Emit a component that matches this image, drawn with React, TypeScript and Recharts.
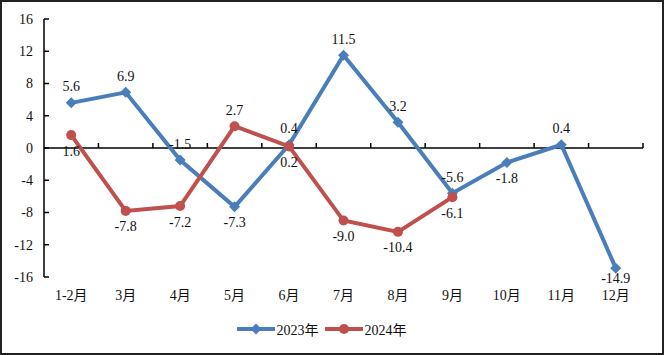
import { LineChart, Line, XAxis, YAxis, Legend, ReferenceLine, LabelList } from 'recharts';

const months = ['1-2月', '3月', '4月', '5月', '6月', '7月', '8月', '9月', '10月', '11月', '12月'];
const growth2023 = [5.6, 6.9, -1.5, -7.3, 0.4, 11.5, 3.2, -5.6, -1.8, 0.4, -14.9];
const growth2024 = [1.6, -7.8, -7.2, 2.7, 0.2, -9.0, -10.4, -6.1, null, null, null];
const yTicks = [-16, -12, -8, -4, 0, 4, 8, 12, 16];

// which months put their value label under the point
const below2023 = ['5月', '10月', '12月'];
const below2024 = ['1-2月', '3月', '4月', '6月', '7月', '8月', '9月'];

const BLUE = '#4A7EBB';
const RED = '#C0504D';
const FONT = '"Liberation Serif", "Noto Sans CJK SC", serif';

const rows = months.map((m, i) => ({ month: m, y2023: growth2023[i], y2024: growth2024[i] }));

const Diamond = (p: any) => {
  const { cx, cy } = p;
  if (cx == null || cy == null) return null;
  const s = 5.5;
  return <path key={`d-${p.index}`} d={`M${cx},${cy - s}L${cx + s},${cy}L${cx},${cy + s}L${cx - s},${cy}Z`} fill={BLUE} />;
};

const makeLabel = (below: string[]) => (props: any) => {
  const { x, y, value, index } = props;
  if (value == null || x == null || y == null) return null;
  const under = below.includes(months[index]);
  // labels close to the bottom of the plot sit a bit tighter so they clear the month names
  const gap = under && y > 255 ? 10 : 16;
  return (
    <text
      x={x}
      y={under ? y + gap : y - gap}
      textAnchor="middle"
      dominantBaseline="central"
      fontSize={14}
      fontFamily={FONT}
      fill="#111"
    >
      {Number(value).toFixed(1)}
    </text>
  );
};

// horizontal zero axis with small category tick marks pointing up
const ZeroAxis = (props: any) => {
  const { x1, x2, y1 } = props;
  const n = months.length;
  const step = (x2 - x1) / n;
  return (
    <g>
      <line x1={x1} x2={x2} y1={y1} y2={y1} stroke="#000" strokeWidth={1.5} />
      {months.map((_, k) => (
        <line key={k} x1={x1 + step * (k + 1)} x2={x1 + step * (k + 1)} y1={y1} y2={y1 - 5} stroke="#000" strokeWidth={1.5} />
      ))}
    </g>
  );
};

const renderLegend = () => (
  <div style={{ display: 'flex', justifyContent: 'center', alignItems: 'center', height: 36, fontFamily: FONT, fontSize: 14, color: '#111' }}>
    <svg width={38} height={12} style={{ marginRight: 2 }}>
      <line x1={0} x2={38} y1={6} y2={6} stroke={BLUE} strokeWidth={4} />
      <path d="M19,0.5L24.5,6L19,11.5L13.5,6Z" fill={BLUE} />
    </svg>
    <span style={{ marginRight: 6 }}>2023年</span>
    <svg width={38} height={12} style={{ marginRight: 2 }}>
      <line x1={0} x2={38} y1={6} y2={6} stroke={RED} strokeWidth={4} />
      <circle cx={19} cy={6} r={5} fill={RED} />
    </svg>
    <span>2024年</span>
  </div>
);

export default function App() {
  return (
    <div style={{ position: 'fixed', left: 0, top: 0, width: 664, height: 355, background: '#fff' }}>
      <LineChart width={664} height={355} data={rows} margin={{ top: 19, right: 21, left: 0, bottom: 8 }}>
        <XAxis
          dataKey="month"
          scale="band"
          axisLine={false}
          tickLine={false}
          height={34}
          tickMargin={7}
          tick={{ fontSize: 14, fontFamily: FONT, fill: '#111' }}
          interval={0}
        />
        <YAxis
          domain={[-16, 16]}
          ticks={yTicks}
          width={44}
          axisLine={{ stroke: '#000', strokeWidth: 1.5 }}
          tickLine={{ stroke: '#000', strokeWidth: 1.5 }}
          tickSize={-5}
          tickMargin={16}
          tick={{ fontSize: 14, fontFamily: FONT, fill: '#111' }}
          allowDataOverflow
        />
        <ReferenceLine y={0} shape={ZeroAxis} />
        <Legend verticalAlign="bottom" height={36} content={renderLegend} />
        <Line
          dataKey="y2023"
          name="2023年"
          stroke={BLUE}
          strokeWidth={4}
          dot={Diamond}
          activeDot={false}
          isAnimationActive={false}
        >
          <LabelList dataKey="y2023" content={makeLabel(below2023)} />
        </Line>
        <Line
          dataKey="y2024"
          name="2024年"
          stroke={RED}
          strokeWidth={4}
          dot={{ r: 5, fill: RED, stroke: RED, strokeWidth: 0 }}
          activeDot={false}
          isAnimationActive={false}
        >
          <LabelList dataKey="y2024" content={makeLabel(below2024)} />
        </Line>
      </LineChart>
      <div style={{ position: 'absolute', inset: 0, border: '2px solid #222', pointerEvents: 'none' }} />
    </div>
  );
}
